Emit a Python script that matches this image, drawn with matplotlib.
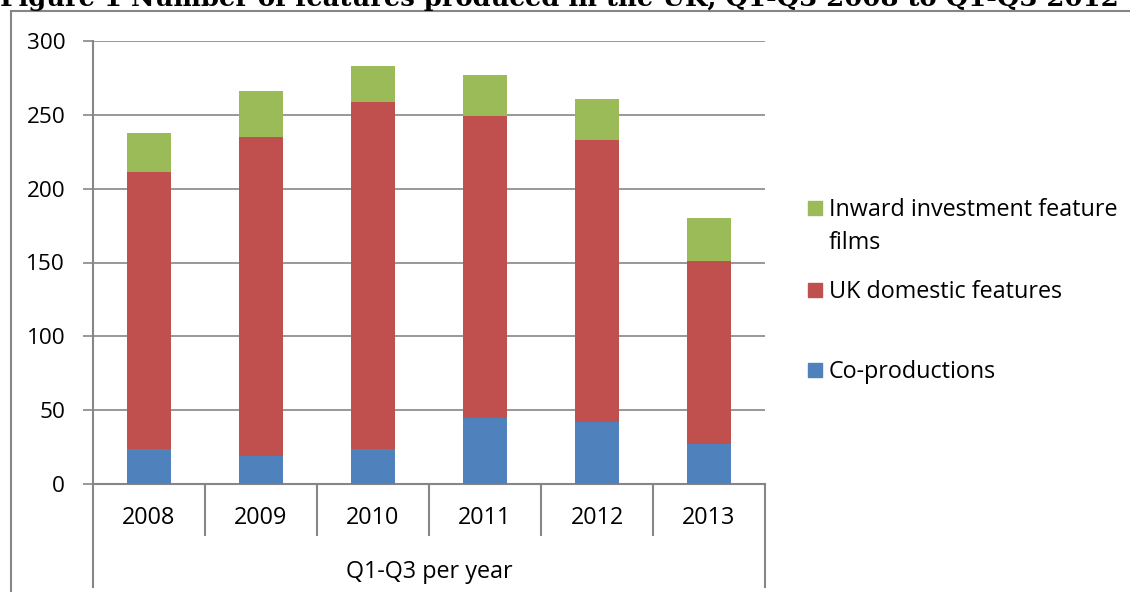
"""Stacked bar chart: UK feature production Q1-Q3, 2008-2013."""

import matplotlib.pyplot as plt
import numpy as np
from matplotlib.lines import Line2D
from matplotlib.patches import Rectangle
from matplotlib.transforms import blended_transform_factory

YEARS = ["2008", "2009", "2010", "2011", "2012", "2013"]
CO_PRODUCTIONS = [24, 19, 24, 45, 42, 27]
UK_DOMESTIC = [187, 216, 235, 204, 191, 124]
INWARD = [27, 31, 24, 28, 28, 29]

SERIES = [
    ("Co-productions", CO_PRODUCTIONS, "#4F81BD"),
    ("UK domestic features", UK_DOMESTIC, "#C0504D"),
    ("Inward investment feature\nfilms", INWARD, "#9BBB59"),
]
TITLE = "Figure 1 Number of features produced in the UK, Q1-Q3 2008 to Q1-Q3 2012"
XLABEL = "Q1-Q3 per year"
YTICKS = [0, 50, 100, 150, 200, 250, 300]

GRID = "#868686"
W, H = 1130, 592
FS = 16.8

plt.rcParams["font.family"] = ["Open Sans", "DejaVu Sans"]


def main() -> None:
    fig = plt.figure(figsize=(W / 100, H / 100), dpi=100)
    ax = fig.add_axes([93 / W, (H - 484) / H, (765 - 93) / W, (484 - 41) / H])

    x = np.arange(len(YEARS))
    bottom = np.zeros(len(YEARS))
    for _, vals, color in SERIES:
        ax.bar(x, vals, width=0.4, bottom=bottom, color=color, zorder=3)
        bottom += np.array(vals)

    ax.set_xlim(-0.5, len(YEARS) - 0.5)
    ax.set_ylim(0, 300)
    ax.set_yticks(YTICKS)
    ax.tick_params(axis="y", length=7, width=1.2, color=GRID, labelsize=16.2, pad=13)
    ax.set_xticks([])
    ax.yaxis.grid(True, color=GRID, lw=1.2, zorder=0)
    for s in ["top", "right"]:
        ax.spines[s].set_visible(False)
    for s in ["left", "bottom"]:
        ax.spines[s].set_color(GRID)
        ax.spines[s].set_linewidth(1.5)

    # category axis: year labels, separators, group label
    tr = blended_transform_factory(ax.transData, ax.transAxes)
    for i, yr in enumerate(YEARS):
        ax.text(i, -0.077, yr, transform=tr, ha="center", va="center", fontsize=FS)
    for b in np.arange(len(YEARS) + 1) - 0.5:
        outer = b in (-0.5, len(YEARS) - 0.5)
        ax.add_line(Line2D([b, b], [0, -0.2325 if outer else -0.115], transform=tr,
                           color=GRID, lw=1.5, clip_on=False))
    ax.text(0.5, -0.199, XLABEL, transform=ax.transAxes, ha="center", va="center",
            fontsize=FS)

    # legend, top entry first
    leg_y = [208, 290, 370]
    for (label, _, color), yc in zip(SERIES[::-1], leg_y):
        fig.patches.append(Rectangle((808 / W, 1 - (yc + 7) / H), 14 / W, 14 / H,
                                     transform=fig.transFigure, color=color))
        fig.text(829 / W, 1 - (yc - 10) / H, label, ha="left", va="top",
                 fontsize=FS, linespacing=1.5)

    # outer chart frame and title (its top is cut off, as in the source)
    fig.add_artist(Line2D([11 / W, 11 / W], [0, 1 - 11 / H], color=GRID, lw=1.5))
    fig.add_artist(Line2D([11 / W, 1], [1 - 11 / H, 1 - 11 / H], color=GRID, lw=1.5))
    fig.text(0.0, 1 - 6 / H, TITLE, ha="left", va="baseline", fontsize=18.6,
             fontweight="bold", family=["DejaVu Serif"])

    fig.savefig("out.png", dpi=100)


if __name__ == "__main__":
    main()
